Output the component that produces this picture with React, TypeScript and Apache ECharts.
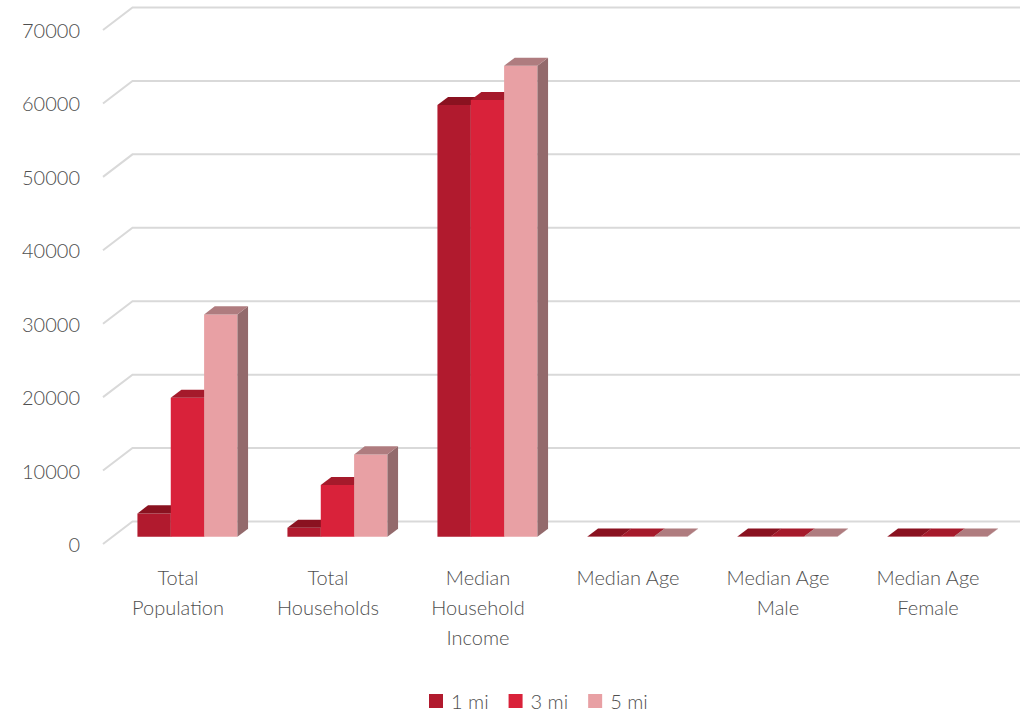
import React, { useEffect, useRef } from "react";
import * as echarts from "echarts";

const categories = [
  "Total\nPopulation",
  "Total\nHouseholds",
  "Median\nHousehold\nIncome",
  "Median Age",
  "Median Age\nMale",
  "Median Age\nFemale",
];
const seriesNames = ["1 mi", "3 mi", "5 mi"];
const values1mi = [3190, 1230, 58790, 38, 37, 39];
const values3mi = [18930, 7040, 59470, 37, 36, 38];
const values5mi = [30290, 11220, 64140, 39, 38, 40];
const yTicks = [0, 10000, 20000, 30000, 40000, 50000, 60000, 70000];

const frontColors = ["#B11A2E", "#D9223A", "#E8A0A4"];
const topColors = ["#8A1220", "#A51A2B", "#AF7C7F"];
const sideColors = ["#8E1526", "#A81C2E", "#936A6C"];

// depth geometry (pixels)
const DEPTH_DX = 29.5;
const DEPTH_DY = -22.5;
const BAR_START = 0.32;
const BAR_END = 0.68;

export default function App() {
  const ref = useRef<HTMLDivElement>(null);
  useEffect(() => {
    if (!ref.current) return;
    const chart = echarts.init(ref.current, null, { renderer: "svg" });
    const allValues = [values1mi, values3mi, values5mi];
    const font = "Lato, 'Open Sans', sans-serif";
    const weight = 300;
    const textColor = "#4F4F4F";

    const gridSeries: any = {
      type: "custom",
      name: "grid",
      silent: true,
      z: 1,
      data: yTicks.map((v) => [0, v]),
      encode: { x: 0, y: 1 },
      renderItem: (params: any, api: any) => {
        const v = api.value(1);
        const p = api.coord([0, v]);
        const x0 = params.coordSys.x;
        const y = p[1];
        return {
          type: "polyline",
          shape: {
            points: [
              [x0, y],
              [x0 + DEPTH_DX, y + DEPTH_DY],
              [api.getWidth(), y + DEPTH_DY],
            ],
          },
          style: { stroke: "#D9D9D9", lineWidth: 2, fill: "none" },
        };
      },
    };

    const barSeries = seriesNames.map((name, si) => ({
      type: "custom",
      name,
      z: 2 + si,
      itemStyle: { color: frontColors[si] },
      data: allValues[si].map((v, i) => [i, v]),
      encode: { x: 0, y: 1 },
      renderItem: (params: any, api: any) => {
        const ci = api.value(0);
        const v = api.value(1);
        const base = api.coord([ci, 0]);
        const top = api.coord([ci, v]);
        const band = api.size([1, 0])[0];
        const bw = (band * 2) / 9;
        const fdx = DEPTH_DX * BAR_START;
        const fdy = DEPTH_DY * BAR_START;
        const dx = DEPTH_DX * (BAR_END - BAR_START);
        const dy = DEPTH_DY * (BAR_END - BAR_START);
        const fx = base[0] - 1.5 * bw + si * bw + fdx;
        const by = base[1] + fdy;
        const ty = top[1] + fdy;
        return {
          type: "group",
          children: [
            {
              type: "polygon",
              shape: { points: [[fx, by], [fx + bw, by], [fx + bw, ty], [fx, ty]] },
              style: { fill: frontColors[si] },
            },
            {
              type: "polygon",
              shape: {
                points: [
                  [fx + bw, by],
                  [fx + bw + dx, by + dy],
                  [fx + bw + dx, ty + dy],
                  [fx + bw, ty],
                ],
              },
              style: { fill: sideColors[si] },
            },
            {
              type: "polygon",
              shape: {
                points: [
                  [fx, ty],
                  [fx + bw, ty],
                  [fx + bw + dx, ty + dy],
                  [fx + dx, ty + dy],
                ],
              },
              style: { fill: topColors[si] },
            },
          ],
        };
      },
    }));

    chart.setOption({
      animation: false,
      textStyle: { fontFamily: font, fontWeight: weight },
      grid: { left: 103, right: 17, top: 30, bottom: 168, containLabel: false },
      legend: {
        data: seriesNames,
        left: 424,
        top: 686,
        icon: "rect",
        itemWidth: 14,
        itemHeight: 14,
        itemGap: 20,
        textStyle: { fontSize: 20, color: textColor, fontFamily: font, fontWeight: weight, padding: [0, 0, 0, 3] },
      },
      xAxis: {
        type: "category",
        data: categories,
        axisLine: { show: false },
        axisTick: { show: false },
        splitLine: { show: false },
        axisLabel: {
          interval: 0,
          margin: 18,
          fontSize: 20,
          lineHeight: 30,
          color: textColor,
          fontFamily: font,
          fontWeight: weight,
        },
      },
      yAxis: {
        type: "value",
        min: 0,
        max: 70000,
        interval: 10000,
        axisLine: { show: false },
        axisTick: { show: false },
        splitLine: { show: false },
        axisLabel: {
          margin: 23,
          fontSize: 20,
          color: textColor,
          fontFamily: font,
          fontWeight: weight,
          formatter: (v: number) => String(v),
        },
      },
      series: [gridSeries, ...barSeries],
    });
    return () => chart.dispose();
  }, []);
  return (
    <div
      ref={ref}
      style={{ position: "fixed", left: 0, top: 0, width: 1020, height: 712, background: "#fff" }}
    />
  );
}
